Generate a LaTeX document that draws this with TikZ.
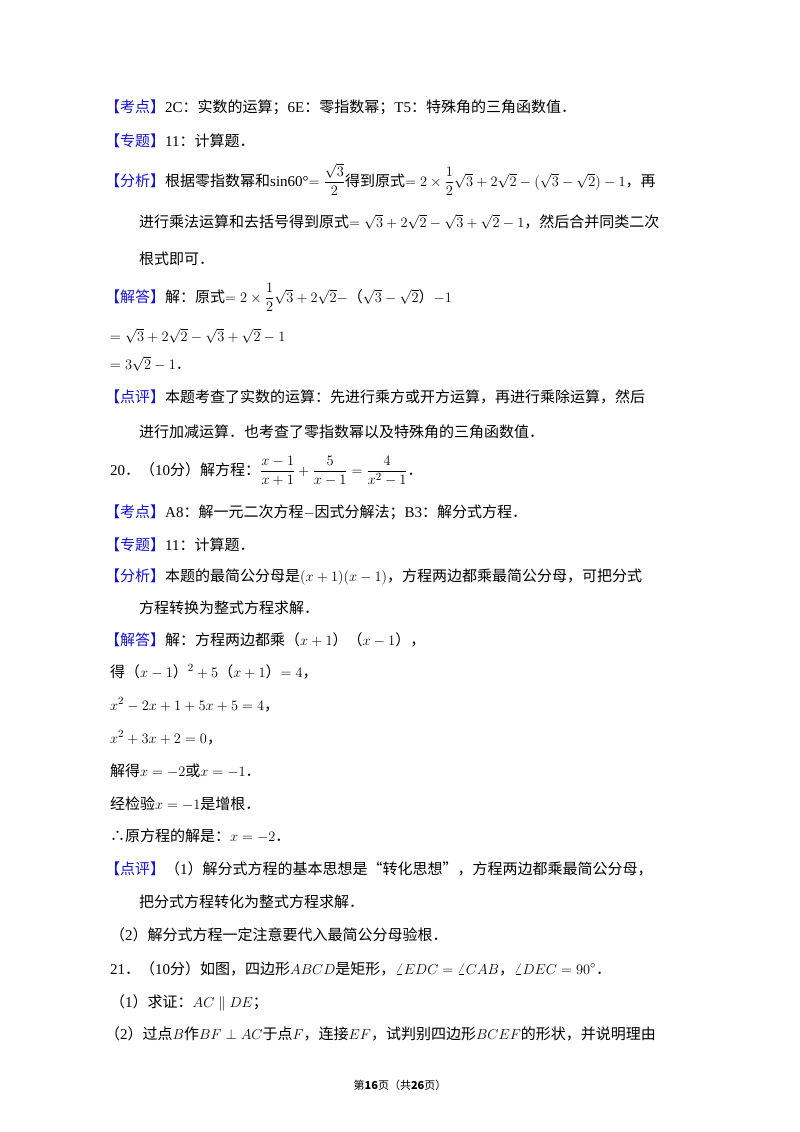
\documentclass[tikz,border=0pt]{standalone}
\usepackage{fontspec}
\setmainfont{Noto Sans CJK SC}
\newfontfamily\lat{Liberation Serif}
\usepackage{xcolor}
\definecolor{tagblue}{RGB}{20,20,210}
\newcommand\tg[1]{\textcolor{tagblue}{【#1】}}
\newcommand\dfr[2]{{\displaystyle\frac{#1}{#2}}}
\begin{document}
\begin{tikzpicture}[x=1pt,y=-1pt,
  T/.style={anchor=base west,inner sep=0pt,font=\fontsize{15}{18}\selectfont}]
\useasboundingbox[fill=white] (0,0) rectangle (800,1132);
\node[T] (a1) at (105,112) {\tg{考点}{\lat 2C}：实数的运算；{\lat 6E}：零指数幂；{\lat T5}：特殊角的三角函数值．};
\node[T] (a2) at (105,146) {\tg{专题}{\lat 11}：计算题．};
\node[T] (a3) at (105,186) {\tg{分析}根据零指数幂和{\lat sin60°}$=\dfr{\sqrt{3}}{2}$得到原式$=2\times\dfr12\sqrt3+2\sqrt2-(\sqrt3-\sqrt2)-1$，再};
\node[T] (a4) at (139,227) {进行乘法运算和去括号得到原式$=\sqrt3+2\sqrt2-\sqrt3+\sqrt2-1$，然后合并同类二次};
\node[T] (a5) at (139,264) {根式即可．};
\node[T] (a6) at (105,302) {\tg{解答}解：原式$=2\times\dfr12\sqrt3+2\sqrt2-$（$\sqrt3-\sqrt2$）$-1$};
\node[T] (a7) at (110,341) {$=\sqrt3+2\sqrt2-\sqrt3+\sqrt2-1$};
\node[T] (a8) at (110,369) {$=3\sqrt2-1$．};
\node[T] (a9) at (105,402) {\tg{点评}本题考查了实数的运算：先进行乘方或开方运算，再进行乘除运算，然后};
\node[T] (a10) at (139,437) {进行加减运算．也考查了零指数幂以及特殊角的三角函数值．};
\node[T] (b1) at (110,475) {{\lat 20}．（{\lat 10}分）解方程：$\dfr{x-1}{x+1}+\dfr{5}{x-1}=\dfr{4}{x^2-1}$．};
\node[T] (b2) at (105,517) {\tg{考点}{\lat A8}：解一元二次方程$-$因式分解法；{\lat B3}：解分式方程．};
\node[T] (b3) at (105,550) {\tg{专题}{\lat 11}：计算题．};
\node[T] (b4) at (105,581) {\tg{分析}本题的最简公分母是$(x+1)(x-1)$，方程两边都乘最简公分母，可把分式};
\node[T] (b5) at (139,613) {方程转换为整式方程求解．};
\node[T] (b6) at (105,645) {\tg{解答}解：方程两边都乘（$x+1$）（$x-1$），};
\node[T] (b7) at (110,677) {得（$x-1$）$^2+5$（$x+1$）$=4$，};
\node[T] (b8) at (110,710) {$x^2-2x+1+5x+5=4$，};
\node[T] (b9) at (110,743) {$x^2+3x+2=0$，};
\node[T] (b10) at (110,776) {解得$x=-2$或$x=-1$．};
\node[T] (b11) at (110,809) {经检验$x=-1$是增根．};
\node[T] (b12) at (110,841) {∴原方程的解是：$x=-2$．};
\node[T] (b13) at (105,874) {\tg{点评}（{\lat 1}）解分式方程的基本思想是“转化思想”，方程两边都乘最简公分母，};
\node[T] (b14) at (139,907) {把分式方程转化为整式方程求解．};
\node[T] (b15) at (110,940) {（{\lat 2}）解分式方程一定注意要代入最简公分母验根．};
\node[T] (c1) at (110,974) {{\lat 21}．（{\lat 10}分）如图，四边形$ABCD$是矩形，$\angle EDC=\angle CAB$，$\angle DEC=90^\circ$．};
\node[T] (c2) at (110,1007) {（{\lat 1}）求证：$AC\parallel DE$；};
\node[T] (c3) at (105,1039) {（{\lat 2}）过点$B$作$BF\perp AC$于点$F$，连接$EF$，试判别四边形$BCEF$的形状，并说明理由};
\node[anchor=base,inner sep=0pt,font=\fontsize{11}{13}\selectfont] (pg) at (400,1089) {第\textbf{16}页（共\textbf{26}页）};
\end{tikzpicture}
\end{document}
